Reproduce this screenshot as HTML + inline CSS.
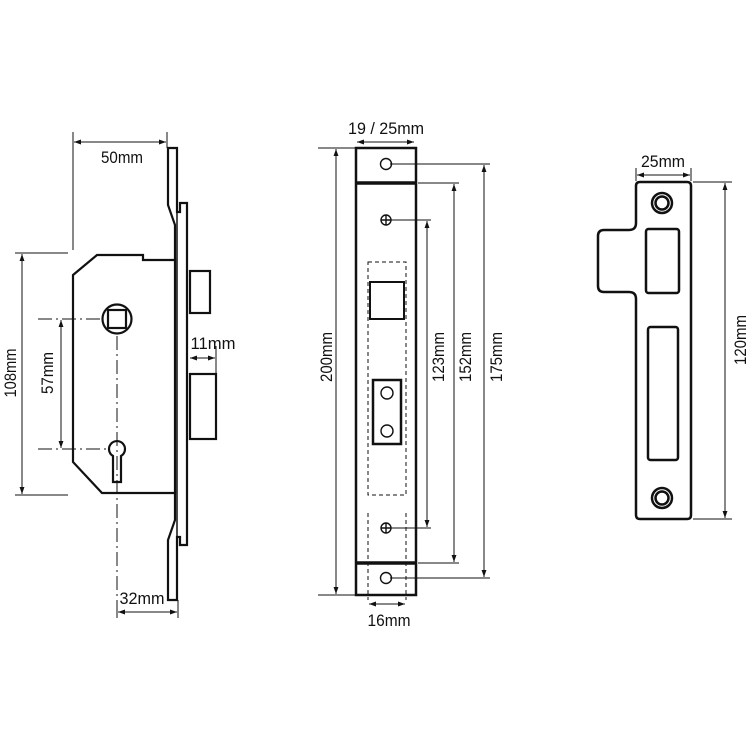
<!DOCTYPE html>
<html><head><meta charset="utf-8"><style>
html,body{margin:0;padding:0;background:#fff;}
svg{display:block}
text{font-family:"Liberation Sans",sans-serif;font-size:17px;fill:#111;}
</style></head><body>
<svg width="750" height="750" viewBox="0 0 750 750" xmlns="http://www.w3.org/2000/svg">
<defs>
<marker id="a" viewBox="0 0 10 10" refX="10" refY="5" markerWidth="7" markerHeight="7" orient="auto-start-reverse" markerUnits="userSpaceOnUse"><path d="M0,1.5 L10,5 L0,8.5 Z" fill="#111"/></marker>
</defs>
<g fill="none" stroke="#111" stroke-width="2.2" stroke-linejoin="miter">
<path d="M168,148 H177 V212 H180 V203 H187 V545 H180 V537 H177 V600 H168 V540 L175,520 V225 L168,205 Z" fill="#fff"/>
<line x1="177" y1="212" x2="177" y2="537" stroke-width="1.5"/>
<path d="M73,275 L97,255 H143 V260 H175 V493 H102 L73,462 Z" fill="#fff"/>
<rect x="190" y="271" width="20" height="42" fill="#fff"/>
<rect x="190" y="374" width="26" height="65" fill="#fff"/>
<circle cx="117" cy="319" r="14.5"/>
<rect x="108" y="310" width="18" height="18"/>
<path d="M113,482 V456 A8,8 0 1 1 121,456 V482 Z"/>
</g>
<g stroke="#111" stroke-width="1" fill="none">
<line x1="117" y1="336" x2="117" y2="600" stroke-dasharray="14,4,2,4"/>
<line x1="38" y1="319" x2="103" y2="319" stroke-dasharray="14,4,2,4"/>
<line x1="38" y1="449" x2="110" y2="449" stroke-dasharray="14,4,2,4"/>
<line x1="73" y1="132" x2="73" y2="250"/>
<line x1="167" y1="132" x2="167" y2="148"/>
<line x1="74" y1="142" x2="166" y2="142" marker-start="url(#a)" marker-end="url(#a)"/>
<line x1="15" y1="253" x2="68" y2="253"/>
<line x1="15" y1="495" x2="68" y2="495"/>
<line x1="22" y1="254" x2="22" y2="494" marker-start="url(#a)" marker-end="url(#a)"/>
<line x1="61" y1="320" x2="61" y2="448" marker-start="url(#a)" marker-end="url(#a)"/>
<line x1="216" y1="346" x2="216" y2="374"/>
<line x1="190" y1="358" x2="215" y2="358" marker-start="url(#a)" marker-end="url(#a)"/>
<line x1="178" y1="600" x2="178" y2="618"/>
<line x1="117" y1="600" x2="117" y2="618"/>
<line x1="118" y1="612" x2="177" y2="612" marker-start="url(#a)" marker-end="url(#a)"/>
</g>
<text x="122" y="163" text-anchor="middle" textLength="42" lengthAdjust="spacingAndGlyphs">50mm</text>
<text transform="translate(16,373) rotate(-90)" text-anchor="middle" textLength="49" lengthAdjust="spacingAndGlyphs">108mm</text>
<text transform="translate(53,373) rotate(-90)" text-anchor="middle" textLength="42" lengthAdjust="spacingAndGlyphs">57mm</text>
<text x="213" y="349" text-anchor="middle" textLength="45" lengthAdjust="spacingAndGlyphs">11mm</text>
<text x="142" y="604" text-anchor="middle" textLength="45" lengthAdjust="spacingAndGlyphs">32mm</text>

<g fill="none" stroke="#111" stroke-width="2.5">
<rect x="356" y="148" width="60" height="447" fill="#fff"/>
<line x1="356" y1="183" x2="416" y2="183" stroke-width="3.5"/>
<line x1="356" y1="563" x2="416" y2="563" stroke-width="3.5"/>
<rect x="370" y="282" width="34" height="37" stroke-width="2"/>
<rect x="373" y="380" width="28" height="64" stroke-width="2.5"/>
</g>
<g fill="none" stroke="#111" stroke-width="1.4">
<circle cx="386" cy="164" r="5.5"/>
<circle cx="386" cy="578" r="5.5"/>
<circle cx="386" cy="220" r="5"/>
<circle cx="386" cy="528" r="5"/>
<path d="M381,220 H391 M386,215 V225 M381,528 H391 M386,523 V533"/>
<circle cx="387" cy="393" r="6"/>
<circle cx="387" cy="431" r="6"/>
</g>
<g fill="none" stroke="#111" stroke-width="1" stroke-dasharray="4,3">
<rect x="368" y="262" width="38" height="233"/>
<line x1="368" y1="513" x2="368" y2="600"/>
<line x1="406" y1="513" x2="406" y2="600"/>
</g>
<g stroke="#111" stroke-width="1" fill="none">
<line x1="357" y1="142" x2="414" y2="142" marker-start="url(#a)" marker-end="url(#a)"/>
<line x1="318" y1="148" x2="355" y2="148"/>
<line x1="318" y1="595" x2="355" y2="595"/>
<line x1="336" y1="149" x2="336" y2="594" marker-start="url(#a)" marker-end="url(#a)"/>
<line x1="390" y1="164" x2="490" y2="164"/>
<line x1="390" y1="578" x2="490" y2="578"/>
<line x1="484" y1="165" x2="484" y2="577" marker-start="url(#a)" marker-end="url(#a)"/>
<line x1="418" y1="183" x2="459" y2="183"/>
<line x1="418" y1="563" x2="459" y2="563"/>
<line x1="454" y1="184" x2="454" y2="562" marker-start="url(#a)" marker-end="url(#a)"/>
<line x1="390" y1="220" x2="431" y2="220"/>
<line x1="390" y1="528" x2="431" y2="528"/>
<line x1="427" y1="221" x2="427" y2="527" marker-start="url(#a)" marker-end="url(#a)"/>
<line x1="369" y1="604" x2="405" y2="604" marker-start="url(#a)" marker-end="url(#a)"/>
</g>
<text x="386" y="134" text-anchor="middle" textLength="76" lengthAdjust="spacingAndGlyphs">19 / 25mm</text>
<text transform="translate(332,357) rotate(-90)" text-anchor="middle" textLength="50" lengthAdjust="spacingAndGlyphs">200mm</text>
<text transform="translate(444,357) rotate(-90)" text-anchor="middle" textLength="50" lengthAdjust="spacingAndGlyphs">123mm</text>
<text transform="translate(471,357) rotate(-90)" text-anchor="middle" textLength="50" lengthAdjust="spacingAndGlyphs">152mm</text>
<text transform="translate(502,357) rotate(-90)" text-anchor="middle" textLength="50" lengthAdjust="spacingAndGlyphs">175mm</text>
<text x="389" y="626" text-anchor="middle" textLength="43" lengthAdjust="spacingAndGlyphs">16mm</text>

<g fill="none" stroke="#111" stroke-width="2.5">
<path d="M640,182 H687 Q691,182 691,186 V515 Q691,519 687,519 H640 Q636,519 636,515 V299 Q636,292 629,292 H604 Q598,292 598,286 V236 Q598,230 604,230 H629 Q636,230 636,223 V186 Q636,182 640,182 Z" fill="#fff"/>
<rect x="646" y="229" width="33" height="64" rx="2.5"/>
<rect x="648" y="327" width="30" height="133" rx="2.5"/>
<circle cx="662" cy="203" r="10"/>
<circle cx="662" cy="203" r="6.5"/>
<circle cx="662" cy="498" r="10"/>
<circle cx="662" cy="498" r="6.5"/>
</g>
<g stroke="#111" stroke-width="1" fill="none">
<line x1="636" y1="168" x2="636" y2="181"/>
<line x1="691" y1="168" x2="691" y2="181"/>
<line x1="637" y1="175" x2="690" y2="175" marker-start="url(#a)" marker-end="url(#a)"/>
<line x1="693" y1="182" x2="732" y2="182"/>
<line x1="693" y1="519" x2="732" y2="519"/>
<line x1="725" y1="183" x2="725" y2="518" marker-start="url(#a)" marker-end="url(#a)"/>
</g>
<text x="663" y="167" text-anchor="middle" textLength="44" lengthAdjust="spacingAndGlyphs">25mm</text>
<text transform="translate(746,340) rotate(-90)" text-anchor="middle" textLength="50" lengthAdjust="spacingAndGlyphs">120mm</text>
</svg>
</body></html>
